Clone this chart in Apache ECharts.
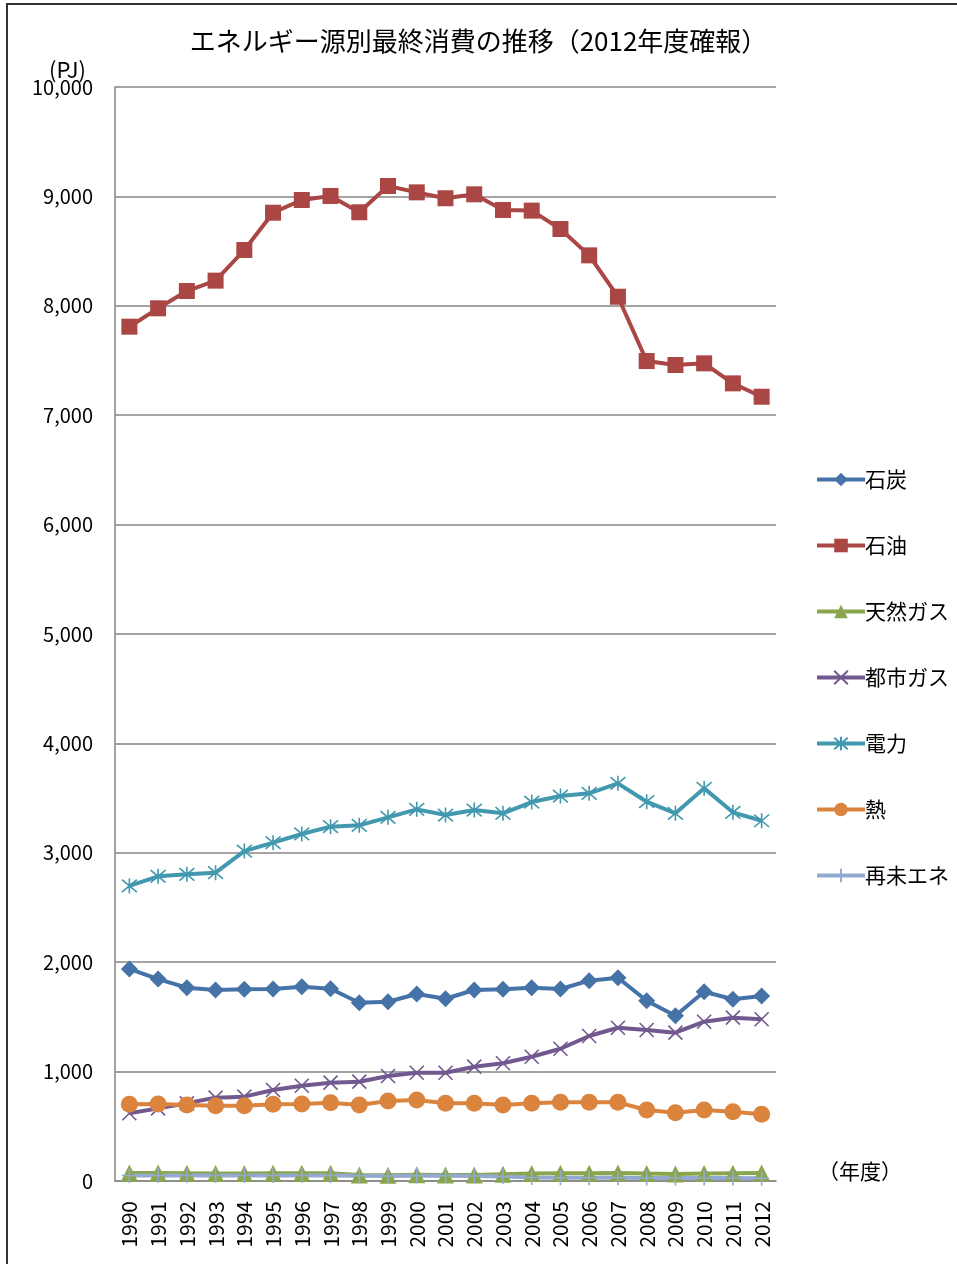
<!DOCTYPE html>
<html>
<head>
<meta charset="utf-8">
<script src="https://cdn.jsdelivr.net/npm/echarts@6/dist/echarts.min.js"></script>
<style>
  html, body { margin: 0; padding: 0; background: #fff; }
  #chart { width: 957px; height: 1264px; }
</style>
</head>
<body>
<div id="chart"></div>
<script>
var years = ['1990', '1991', '1992', '1993', '1994', '1995', '1996', '1997', '1998', '1999', '2000', '2001',
  '2002', '2003', '2004', '2005', '2006', '2007', '2008', '2009', '2010', '2011', '2012'];

var coal = [1938, 1846, 1767, 1746, 1752, 1755, 1776, 1758, 1630, 1639, 1709, 1666,
  1746, 1752, 1767, 1755, 1831, 1858, 1648, 1511, 1730, 1661, 1691];
var oil = [7809, 7977, 8135, 8230, 8510, 8851, 8967, 9004, 8855, 9095, 9037, 8983,
  9019, 8876, 8870, 8702, 8461, 8083, 7495, 7459, 7474, 7291, 7169];
var naturalGas = [72, 72, 70, 68, 68, 70, 70, 70, 55, 52, 58, 55,
  55, 62, 68, 70, 70, 72, 68, 65, 68, 70, 72];
var cityGas = [619, 664, 710, 762, 771, 832, 871, 899, 908, 960, 990, 990,
  1045, 1076, 1136, 1209, 1325, 1401, 1380, 1356, 1456, 1493, 1478];
var power = [2697, 2785, 2803, 2818, 3016, 3093, 3172, 3239, 3251, 3324, 3397, 3345,
  3391, 3361, 3464, 3519, 3544, 3635, 3467, 3361, 3589, 3370, 3293];
var heat = [701, 704, 695, 688, 688, 701, 704, 716, 695, 731, 740, 710,
  710, 695, 710, 719, 719, 719, 649, 624, 649, 634, 610];
var renewable = [50, 50, 50, 50, 50, 50, 50, 50, 48, 46, 48, 48,
  46, 40, 32, 30, 30, 30, 28, 28, 28, 28, 25];

var yTicks = [0, 1000, 2000, 3000, 4000, 5000, 6000, 7000, 8000, 9000, 10000];

var font = '"Noto Sans CJK JP", "Noto Sans", sans-serif';

function makeSeries(name, data, color, symbol, size, stroke) {
  return {
    name: name,
    type: 'line',
    data: data,
    symbol: symbol,
    symbolSize: size,
    lineStyle: { color: color, width: 4 },
    itemStyle: stroke
      ? { color: color, borderColor: color, borderWidth: 1.6 }
      : { color: color },
    emphasis: { disabled: true }
  };
}

var cross = 'path://M0,0L10,10M10,0L0,10';
var star = 'path://M0,0L10,10M10,0L0,10M5,-1L5,11';
var plus = 'path://M5,0L5,10M0,5L10,5';

var chart = echarts.init(document.getElementById('chart'), null, { renderer: 'canvas' });
chart.setOption({
  animation: false,
  textStyle: { fontFamily: font },
  title: {
    text: 'エネルギー源別最終消費の推移（2012年度確報）',
    left: 'center',
    top: 23,
    textStyle: { fontFamily: font, fontSize: 26, fontWeight: 'normal', color: '#000' }
  },
  legend: {
    orient: 'vertical',
    left: 810,
    top: 464,
    itemWidth: 48,
    itemHeight: 17,
    itemGap: 45,
    lineStyle: { width: 4 },
    textStyle: { fontFamily: font, fontSize: 21, color: '#000', padding: [0, 0, 0, -5] },
    data: ['石炭', '石油', '天然ガス', '都市ガス', '電力', '熱', '再未エネ']
  },
  grid: { left: 115, right: 181, top: 87, bottom: 83 },
  xAxis: {
    type: 'category',
    data: years,
    boundaryGap: true,
    axisLine: { lineStyle: { color: '#868686', width: 1.5 } },
    axisTick: { show: false },
    axisLabel: { rotate: 90, fontSize: 21, color: '#000', margin: 20, fontFamily: font }
  },
  yAxis: {
    type: 'value',
    min: yTicks[0],
    max: yTicks[yTicks.length - 1],
    interval: 1000,
    axisLine: { show: true, lineStyle: { color: '#868686', width: 1.5 } },
    axisTick: { show: false },
    splitLine: { lineStyle: { color: '#868686', width: 1.5 } },
    axisLabel: {
      fontSize: 20, color: '#000', margin: 22, fontFamily: font,
      formatter: function(v) { return v.toLocaleString('en-US'); }
    }
  },
  graphic: [
    { type: 'rect', shape: { x: 7, y: 4, width: 980, height: 1300 }, style: { fill: 'none', stroke: '#333', lineWidth: 2 } },
    { type: 'text', left: 49, top: 59, style: { text: '(PJ)', font: '22px ' + font, fill: '#000' } },
    { type: 'text', left: 818, top: 1161, style: { text: '（年度）', font: '21px ' + font, fill: '#000' } }
  ],
  series: [
    makeSeries('石炭', coal, '#4572A7', 'diamond', 17, false),
    makeSeries('石油', oil, '#AA4643', 'rect', 16, false),
    makeSeries('天然ガス', naturalGas, '#89A54E', 'triangle', 17, false),
    makeSeries('都市ガス', cityGas, '#71588F', cross, 14, true),
    makeSeries('電力', power, '#4198AF', star, 15, true),
    makeSeries('熱', heat, '#DB843D', 'circle', 17, false),
    makeSeries('再未エネ', renewable, '#93A9CF', plus, 15, true)
  ]
});
window.addEventListener('resize', function() { chart.resize(); });
</script>
</body>
</html>
